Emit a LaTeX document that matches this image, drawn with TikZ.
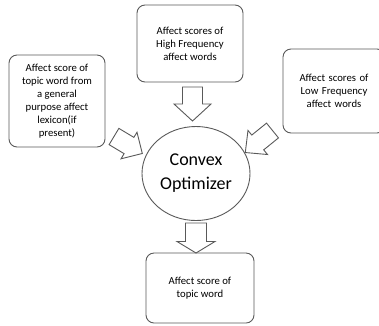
\documentclass[tikz,border=0pt]{standalone}
\usepackage{fontspec}
\setmainfont{Carlito}
\usetikzlibrary{shapes.geometric}
\begin{document}
\begin{tikzpicture}[x=1pt,y=-1pt,
  line/.style={draw=black!65,line width=0.9pt},
  infobox/.style={line,rounded corners=8pt,align=center,font=\fontsize{10.7}{13}\selectfont},
  solver/.style={line,ellipse,inner sep=0pt,minimum width=108pt,minimum height=94pt,align=center,font=\fontsize{18}{24}\selectfont},
  blockarrow/.style={line,line join=miter}]
\useasboundingbox (0,0) rectangle (379,325);

% input boxes
\node[infobox,minimum width=96pt,minimum height=92pt] (lex) at (57,101)
  {Affect score of\\topic word from\\a general\\purpose affect\\lexicon(if\\present)};
\node[infobox,minimum width=106pt,minimum height=77pt] (high) at (190,43.5)
  {Affect scores of\\High Frequency\\affect words};
\begin{scope}
  \clip (0,0) rectangle (379,325);
  \node[infobox,minimum width=102pt,minimum height=84pt,text width=90pt] (low) at (334,91)
    {Affect scores of\\Low Frequency\\affect words};
  \node[infobox,minimum width=108pt,minimum height=70pt] (out) at (200,288)
    {Affect score of\\topic word};
\end{scope}

% optimizer
\node[solver] (opt) at (196,173.5) {Convex\\Optimizer};

% block arrow: tail centre, canvas angle, length, shaft half width, head half width, head length
\newcommand{\blockarr}[6]{%
  \begin{scope}[shift={(#1)},rotate=#2]
    \draw[blockarrow] (0,-#4) -- ({#3-#6},-#4) -- ({#3-#6},-#5) -- (#3,0)
      -- ({#3-#6},#5) -- ({#3-#6},#4) -- (0,#4) -- cycle;
  \end{scope}}
\coordinate (a1) at (192.5,87);
\coordinate (a2) at (114,136.5);
\coordinate (a3) at (272.5,130.5);
\coordinate (a4) at (196,223);
\blockarr{a1}{-90}{34}{10}{18.5}{17}
\blockarr{a2}{-31}{33}{9.5}{15.5}{15.5}
\blockarr{a3}{-141}{35}{9.5}{15.5}{16}
\blockarr{a4}{-90}{30}{10.5}{19}{11.5}
\end{tikzpicture}
\end{document}
